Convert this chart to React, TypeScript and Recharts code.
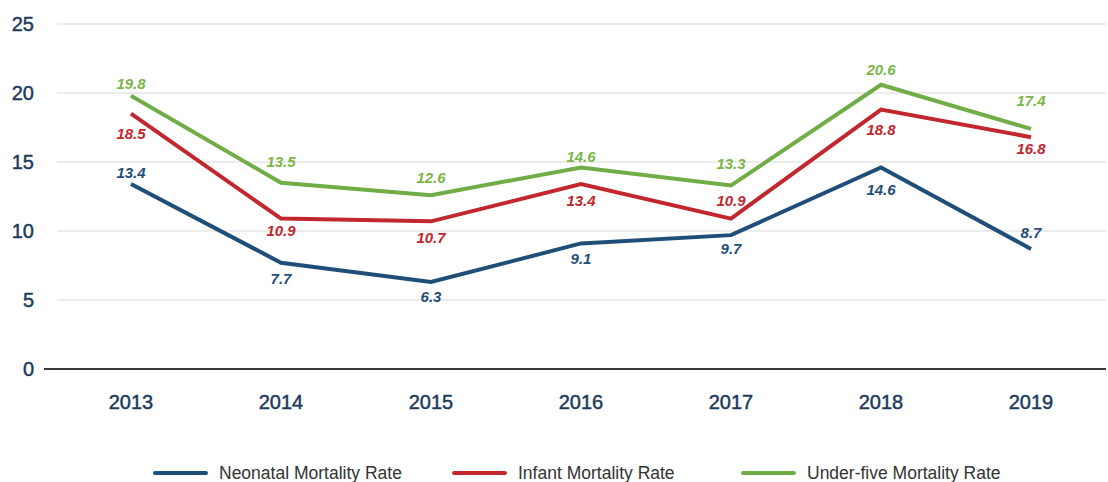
import React from 'react';
import { LineChart, Line, XAxis, YAxis, CartesianGrid, Legend, LabelList, ReferenceLine } from 'recharts';

const years = ['2013', '2014', '2015', '2016', '2017', '2018', '2019'];
const neonatal = [13.4, 7.7, 6.3, 9.1, 9.7, 14.6, 8.7];
const infant = [18.5, 10.9, 10.7, 13.4, 10.9, 18.8, 16.8];
const underFive = [19.8, 13.5, 12.6, 14.6, 13.3, 20.6, 17.4];
const yTicks = [0, 5, 10, 15, 20, 25];

// label baseline nudges (px) relative to each point: negative = above, positive = below
const neonatalLabelDy = [-6, 21, 20, 21, 19, 27, -11];
const infantLabelDy = [25, 17, 22, 22, -13, 25, 17];
const underFiveLabelDy = [-7, -16, -12, -6, -16, -10, -23];

const data = years.map((y, i) => ({
  year: y,
  neonatal: neonatal[i],
  infant: infant[i],
  underFive: underFive[i],
}));

const BLUE = '#1f4e79';
const RED = '#c1272d';
const GREEN = '#70ad47';
const GREEN_LABEL = '#7ab648';
const NAVY = '#1b3a5c';
const FONT = "'Liberation Sans', Arial, Helvetica, sans-serif";

const series = [
  { key: 'neonatal', name: 'Neonatal Mortality Rate', color: BLUE, labelColor: BLUE, dys: neonatalLabelDy },
  { key: 'infant', name: 'Infant Mortality Rate', color: RED, labelColor: RED, dys: infantLabelDy },
  { key: 'underFive', name: 'Under-five Mortality Rate', color: GREEN, labelColor: GREEN_LABEL, dys: underFiveLabelDy },
];

const makeLabel = (dys: number[], color: string) => (props: any) => {
  const { x, y, value, index } = props;
  return (
    <text
      x={x}
      y={y + dys[index]}
      textAnchor="middle"
      fill={color}
      fontSize={15}
      fontWeight="bold"
      fontStyle="italic"
      fontFamily={FONT}
    >
      {value}
    </text>
  );
};

const legendX = [153, 452, 741];

const renderLegend = () => (
  <svg width={1108} height={40} style={{ display: 'block' }}>
    {series.map((s, i) => (
      <g key={s.key} transform={`translate(${legendX[i]},0)`}>
        <line x1={2} y1={31} x2={53} y2={31} stroke={s.color} strokeWidth={4} strokeLinecap="round" />
        <text x={66} y={36.5} fontSize={17.5} fill="#333" fontFamily={FONT}>
          {s.name}
        </text>
      </g>
    ))}
  </svg>
);

const axisLineShape = (p: any) => (
  <line x1={p.x1 - 13} y1={p.y1} x2={p.x2} y2={p.y2} stroke="#3a3a3a" strokeWidth={2} />
);

const tickStyle = { fill: NAVY, fontSize: 20, fontFamily: FONT, stroke: NAVY, strokeWidth: 0.45 };

export default function App() {
  return (
    <div style={{ position: 'absolute', left: 0, top: 0, background: '#fff' }}>
      <LineChart width={1108} height={482} data={data} margin={{ top: 24, right: 2, left: 0, bottom: 0 }}>
        <CartesianGrid horizontal vertical={false} stroke="#d9d9d9" strokeWidth={1} />
        <XAxis
          dataKey="year"
          height={73}
          padding={{ left: 74, right: 75 }}
          axisLine={false}
          tickLine={false}
          tickSize={0}
          tickMargin={26}
          tick={tickStyle}
        />
        <YAxis
          width={57}
          domain={[0, 25]}
          ticks={yTicks}
          axisLine={false}
          tickLine={false}
          tickSize={0}
          tickMargin={23}
          tick={tickStyle}
        />
        <ReferenceLine y={0} shape={axisLineShape} />
        <Legend verticalAlign="bottom" height={40} content={renderLegend} wrapperStyle={{ left: 0, bottom: 0, width: 1108 }} />
        {series.map((s) => (
          <Line
            key={s.key}
            type="linear"
            dataKey={s.key}
            name={s.name}
            stroke={s.color}
            strokeWidth={4}
            dot={false}
            activeDot={false}
            isAnimationActive={false}
          >
            <LabelList dataKey={s.key} content={makeLabel(s.dys, s.labelColor)} />
          </Line>
        ))}
      </LineChart>
    </div>
  );
}
